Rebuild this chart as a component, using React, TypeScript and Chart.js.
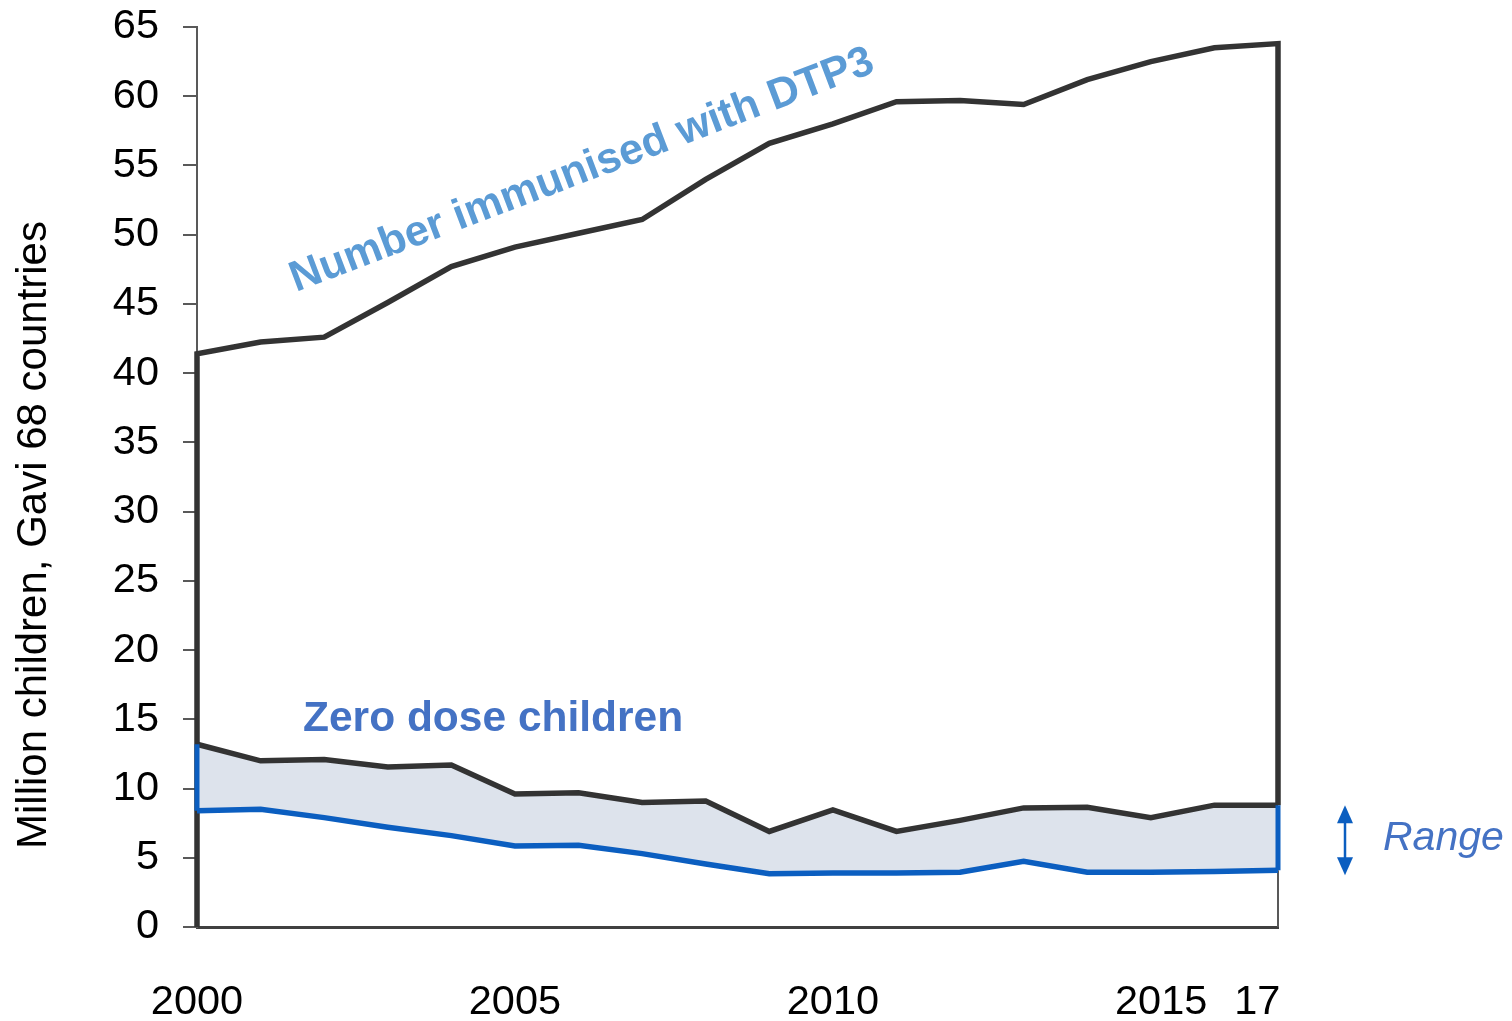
import React, { useEffect, useRef } from "react";
import { Chart, registerables } from "chart.js";

Chart.register(...registerables);

const years = [2000, 2001, 2002, 2003, 2004, 2005, 2006, 2007, 2008, 2009, 2010, 2011, 2012, 2013, 2014, 2015, 2016, 2017];
const dtp3 = [41.4, 42.25, 42.6, 45.1, 47.7, 49.1, 50.1, 51.1, 54.0, 56.6, 58.0, 59.6, 59.7, 59.4, 61.2, 62.5, 63.5, 63.8];
const zeroHigh = [13.2, 12.0, 12.1, 11.55, 11.7, 9.6, 9.7, 9.0, 9.1, 6.9, 8.45, 6.9, 7.7, 8.6, 8.65, 7.9, 8.8, 8.8];
const zeroLow = [8.4, 8.5, 7.9, 7.2, 6.6, 5.85, 5.9, 5.3, 4.55, 3.85, 3.9, 3.9, 3.95, 4.75, 3.95, 3.95, 4.0, 4.1];
const xTickYears = [2000, 2005, 2010, 2015, 2017];
const xTickLabels = ["2000", "2005", "2010", "\u20022015", "17\u2002\u2002"];
const yMin = 0;
const yMax = 65;
const yStep = 5;

const yTitle = "Million children, Gavi 68 countries";
const dtp3Label = "Number immunised with DTP3";
const zeroLabel = "Zero dose children";
const rangeLabel = "Range";

const FONT = "'Liberation Sans', Arial, sans-serif";
const DARK = "#333333";
const BLUE = "#0B5EC0";

export default function App() {
  const ref = useRef<HTMLCanvasElement | null>(null);

  useEffect(() => {
    if (!ref.current) return;
    const pts = (arr: number[]) => arr.map((v, i) => ({ x: years[i], y: v }));
    const last = years.length - 1;

    const annot = {
      id: "annot",
      afterDraw(chart: any) {
        const ctx = chart.ctx;
        const ys = chart.scales.y;
        ctx.save();
        // y title
        ctx.save();
        ctx.translate(34, 535);
        ctx.rotate(-Math.PI / 2);
        ctx.font = `42px ${FONT}`;
        ctx.fillStyle = "#000";
        ctx.textAlign = "center";
        ctx.textBaseline = "middle";
        ctx.fillText(yTitle, 0, 0);
        ctx.restore();
        // DTP3 label
        ctx.save();
        ctx.translate(296, 292);
        ctx.rotate((-20.8 * Math.PI) / 180);
        ctx.font = `bold 43px ${FONT}`;
        ctx.fillStyle = "#5B9BD5";
        ctx.textAlign = "left";
        ctx.textBaseline = "alphabetic";
        ctx.fillText(dtp3Label, 0, 0);
        ctx.restore();
        // zero dose label
        ctx.font = `bold 42.5px ${FONT}`;
        ctx.fillStyle = "#4472C4";
        ctx.textAlign = "left";
        ctx.textBaseline = "alphabetic";
        ctx.fillText(zeroLabel, 303, 731);
        // range label
        ctx.font = `italic 41px ${FONT}`;
        ctx.fillStyle = "#4472C4";
        ctx.fillText(rangeLabel, 1383, 850);
        // arrow
        const ax = 1345;
        const yTop = ys.getPixelForValue(zeroHigh[last]);
        const yBot = ys.getPixelForValue(zeroLow[last]);
        ctx.strokeStyle = BLUE;
        ctx.fillStyle = BLUE;
        ctx.lineWidth = 2.5;
        ctx.beginPath();
        ctx.moveTo(ax, yTop + 10);
        ctx.lineTo(ax, yBot - 10);
        ctx.stroke();
        ctx.beginPath();
        ctx.moveTo(ax, yTop);
        ctx.lineTo(ax - 8, yTop + 18);
        ctx.lineTo(ax + 8, yTop + 18);
        ctx.closePath();
        ctx.fill();
        ctx.beginPath();
        ctx.moveTo(ax, yBot + 5);
        ctx.lineTo(ax - 8, yBot - 13);
        ctx.lineTo(ax + 8, yBot - 13);
        ctx.closePath();
        ctx.fill();
        ctx.restore();
      },
    };

    const chart = new Chart(ref.current, {
      type: "line",
      data: {
        datasets: [
          {
            label: "DTP3",
            data: [{ x: years[0], y: yMin }, ...pts(dtp3), { x: years[last], y: zeroHigh[last] }],
            borderColor: DARK,
            borderWidth: 5.5,
            pointRadius: 0,
            fill: false,
            tension: 0,
            borderJoinStyle: "miter",
            clip: false,
            order: 4,
          },
          {
            label: "Zero high",
            data: pts(zeroHigh),
            borderColor: DARK,
            borderWidth: 5.5,
            pointRadius: 0,
            fill: false,
            tension: 0,
            borderJoinStyle: "miter",
            clip: false,
            order: 2,
          },
          {
            label: "Zero low",
            data: pts(zeroLow),
            borderColor: BLUE,
            backgroundColor: "#DDE3EC",
            borderWidth: 5.5,
            pointRadius: 0,
            fill: "-1",
            tension: 0,
            borderJoinStyle: "miter",
            clip: false,
            order: 3,
          },
          {
            label: "edge left",
            data: [{ x: years[0], y: zeroHigh[0] }, { x: years[0], y: zeroLow[0] }],
            borderColor: BLUE,
            borderWidth: 5,
            pointRadius: 0,
            fill: false,
            clip: false,
            order: 1,
          },
          {
            label: "edge right",
            data: [{ x: years[last], y: zeroHigh[last] }, { x: years[last], y: zeroLow[last] }],
            borderColor: BLUE,
            borderWidth: 5,
            pointRadius: 0,
            fill: false,
            clip: false,
            order: 1,
          },
          {
            label: "right base",
            data: [{ x: years[last], y: zeroLow[last] }, { x: years[last], y: yMin }],
            borderColor: "#595959",
            borderWidth: 2,
            pointRadius: 0,
            fill: false,
            clip: false,
            order: 5,
          },
        ],
      },
      options: {
        responsive: false,
        animation: false,
        layout: { padding: { top: 27, left: 0, right: 234, bottom: 0 } },
        plugins: {
          legend: { display: false },
          tooltip: { enabled: false },
        },
        scales: {
          x: {
            type: "linear",
            min: years[0],
            max: years[last],
            afterBuildTicks: (s: any) => {
              s.ticks = xTickYears.map((v) => ({ value: v }));
            },
            afterFit: (s: any) => {
              s.height = 94;
              s.paddingLeft = 0;
              s.paddingRight = 0;
            },
            ticks: {
              autoSkip: false,
              maxRotation: 0,
              padding: 51,
              color: "#000",
              font: { family: FONT, size: 41.5 },
              callback: (v: any) => {
                const i = xTickYears.indexOf(Number(v));
                return i >= 0 ? xTickLabels[i] : "";
              },
            },
            grid: { display: true, drawOnChartArea: false, drawTicks: false },
            border: { display: true, color: "#404040", width: 3 },
          },
          y: {
            type: "linear",
            position: "left",
            min: yMin,
            max: yMax,
            afterFit: (s: any) => {
              s.width = 197;
              s.paddingTop = 0;
              s.paddingBottom = 0;
            },
            ticks: {
              stepSize: yStep,
              padding: 24,
              color: "#000",
              font: { family: FONT, size: 41.5 },
            },
            grid: { drawOnChartArea: false, drawTicks: true, tickLength: 14, color: "#595959", lineWidth: 2 },
            border: { display: true, color: "#595959", width: 2 },
          },
        },
      },
      plugins: [annot],
    } as any);

    return () => chart.destroy();
  }, []);

  return (
    <div style={{ position: "fixed", left: 0, top: 0, width: 1512, height: 1021, background: "#fff" }}>
      <canvas ref={ref} width={1512} height={1021} style={{ display: "block" }} />
    </div>
  );
}
